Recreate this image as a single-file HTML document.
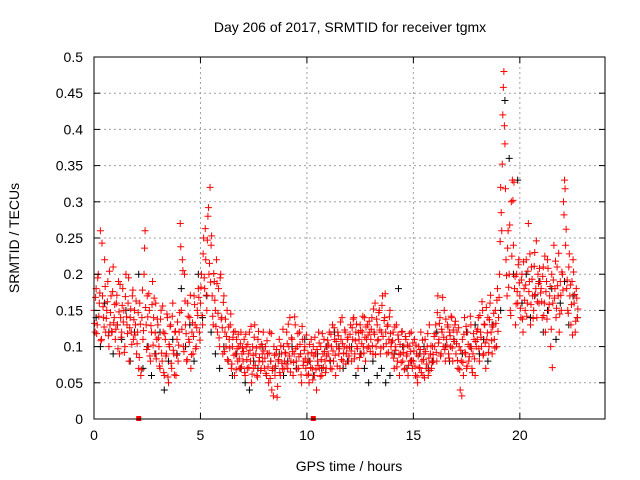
<!DOCTYPE html>
<html><head><meta charset="utf-8"><style>
body{margin:0;background:#fff}
svg{display:block;font-family:"Liberation Sans",sans-serif}
</style></head><body>
<svg id="chart" width="640" height="480">
<rect width="640" height="480" fill="#fff"/>
<g id="grid"></g>
<g id="marks"></g>
<rect x="94" y="57" width="511" height="362" fill="none" stroke="#000" stroke-width="1"/>
<g id="axes"></g>
<text x="350" y="32" font-size="14" text-anchor="middle">Day 206 of 2017, SRMTID for receiver tgmx</text>
<text x="349" y="471" font-size="14" text-anchor="middle">GPS time / hours</text>
<text x="19" y="238" font-size="14" text-anchor="middle" transform="rotate(-90 19 238)">SRMTID / TECUs</text>
</svg>
<script>
const xTicks=[0,5,10,15,20];
const yTicks=[0,0.05,0.1,0.15,0.2,0.25,0.3,0.35,0.4,0.45,0.5];
const redStep=0.05;
const redValues=[
.15,.12,.18,.13,.2,.16,.26,.11,.17,.14,.22,.12,.15,.19,.1,.13,.17,.12,.21,.14,
.11,.16,.13,.19,.09,.14,.12,.18,.15,.1,.2,.13,.16,.08,.14,.12,.17,.11,.15,.13,
.09,.12,.07,.16,.06,.14,.11,.2,.26,.13,.17,.1,.15,.08,.12,.19,.14,.09,.16,.11,
.13,.1,.07,.15,.08,.12,.06,.11,.09,.14,.05,.1,.13,.07,.16,.09,.12,.06,.11,.08,
.12,.27,.15,.22,.1,.2,.13,.08,.16,.11,.14,.07,.12,.09,.17,.13,.1,.15,.18,.12,
.16,.2,.13,.25,.18,.22,.15,.28,.2,.32,.24,.17,.13,.19,.15,.22,.12,.18,.1,.2,
.14,.09,.17,.12,.1,.15,.08,.11,.13,.07,.1,.12,.06,.09,.11,.08,.1,.07,.12,.09,
.08,.11,.06,.1,.07,.09,.12,.08,.05,.1,.07,.13,.09,.06,.11,.08,.1,.07,.09,.12,
.07,.1,.06,.09,.05,.12,.08,.04,.07,.1,.06,.09,.03,.08,.11,.06,.09,.07,.1,.08,
.09,.12,.07,.1,.14,.08,.11,.06,.09,.13,.08,.1,.07,.12,.09,.05,.11,.08,.1,.07,
.06,.09,.05,.08,.11,.07,.1,.06,.09,.04,.08,.12,.07,.1,.06,.09,.11,.08,.07,.1,
.09,.12,.07,.1,.13,.08,.11,.06,.1,.12,.09,.07,.11,.14,.08,.1,.12,.09,.11,.08,
.1,.13,.08,.11,.14,.09,.12,.1,.07,.11,.13,.09,.12,.1,.14,.08,.11,.13,.1,.12,
.11,.14,.09,.12,.16,.1,.13,.11,.15,.09,.12,.17,.1,.14,.12,.09,.13,.11,.15,.1,
.09,.12,.07,.1,.13,.08,.11,.06,.09,.12,.08,.1,.07,.11,.09,.06,.1,.08,.12,.07,
.08,.11,.06,.09,.05,.1,.07,.12,.08,.06,.09,.11,.07,.1,.06,.13,.09,.07,.1,.08,
.1,.13,.08,.17,.11,.14,.09,.12,.1,.15,.08,.11,.13,.09,.12,.1,.14,.08,.11,.13,
.09,.12,.07,.1,.04,.08,.11,.06,.14,.09,.07,.12,.08,.1,.13,.07,.09,.11,.06,.1,
.11,.14,.08,.12,.1,.15,.09,.13,.07,.11,.14,.1,.16,.12,.09,.13,.11,.15,.1,.18,
.14,.2,.32,.26,.42,.48,.38,.22,.17,.26,.2,.15,.3,.33,.24,.18,.13,.2,.16,.22,
.17,.14,.2,.12,.18,.15,.22,.16,.27,.19,.13,.21,.17,.15,.23,.18,.14,.2,.16,.19,
.18,.14,.21,.16,.12,.19,.22,.15,.17,.1,.2,.16,.24,.18,.14,.21,.17,.12,.19,.15,
.2,.3,.33,.24,.18,.15,.21,.17,.13,.19,.22,.16,.12,.18,.14];
const redValues2=[
.132,.168,.118,.195,.142,.174,.108,.243,.155,.127,.183,.139,.162,.115,.204,.147,.121,.176,.133,.158,
.124,.171,.097,.148,.186,.113,.157,.134,.092,.169,.141,.118,.195,.126,.152,.103,.178,.137,.116,.163,
.104,.147,.085,.131,.068,.178,.122,.236,.154,.096,.141,.173,.087,.129,.158,.102,.167,.119,.083,.138,
.112,.073,.138,.091,.156,.064,.118,.087,.145,.058,.103,.128,.077,.142,.095,.061,.121,.088,.134,.102,
.147,.238,.124,.205,.093,.163,.118,.082,.142,.106,.171,.089,.133,.114,.158,.097,.126,.143,.168,.109,
.182,.143,.228,.195,.263,.171,.247,.292,.215,.189,.253,.142,.201,.164,.128,.187,.146,.112,.195,.138,
.126,.161,.093,.138,.114,.082,.127,.098,.145,.076,.113,.088,.121,.068,.097,.117,.083,.104,.072,.098,
.093,.064,.117,.082,.103,.071,.095,.128,.062,.088,.113,.074,.098,.058,.121,.085,.067,.103,.079,.094,
.084,.063,.108,.072,.091,.056,.118,.067,.032,.088,.073,.096,.045,.082,.064,.101,.077,.124,.069,.092,
.076,.104,.131,.087,.065,.112,.093,.078,.141,.097,.069,.118,.086,.103,.061,.128,.074,.095,.083,.116,
.078,.062,.103,.071,.092,.054,.087,.113,.068,.096,.074,.105,.059,.082,.118,.071,.093,.064,.087,.109,
.102,.081,.117,.069,.094,.126,.088,.107,.073,.115,.097,.134,.082,.104,.091,.123,.076,.098,.113,.087,
.117,.094,.126,.138,.083,.108,.131,.097,.119,.085,.122,.104,.142,.091,.113,.127,.098,.116,.135,.093,
.124,.101,.152,.117,.089,.138,.108,.147,.123,.098,.157,.114,.136,.173,.104,.128,.092,.141,.118,.106,
.108,.084,.127,.095,.072,.116,.089,.103,.078,.121,.092,.068,.114,.087,.102,.074,.118,.093,.081,.105,
.094,.073,.102,.058,.087,.071,.096,.064,.109,.082,.057,.093,.076,.118,.084,.067,.101,.078,.089,.114,
.118,.092,.147,.105,.132,.087,.124,.168,.113,.096,.138,.102,.127,.084,.115,.142,.098,.123,.107,.135,
.104,.081,.126,.068,.095,.032,.078,.117,.092,.128,.073,.103,.086,.142,.097,.064,.118,.083,.107,.121,
.124,.097,.143,.113,.162,.088,.131,.105,.154,.119,.092,.137,.171,.108,.127,.146,.098,.132,.164,.121,
.168,.245,.285,.352,.458,.405,.318,.198,.236,.182,.268,.143,.225,.302,.327,.197,.159,.176,.213,.188,
.153,.192,.138,.217,.164,.185,.142,.204,.176,.228,.158,.193,.139,.211,.172,.246,.162,.187,.208,.174,
.162,.197,.143,.225,.176,.138,.208,.158,.183,.124,.071,.192,.167,.218,.153,.184,.229,.145,.171,.203,
.178,.282,.318,.262,.192,.146,.228,.185,.158,.116,.203,.172,.135,.167,.152];
const blackStep=0.2;
const blackValues=[
.14,.1,.16,.12,.09,.13,.11,.15,.08,.12,.2,.07,.1,.06,.09,.12,.04,.08,.11,.09,
.18,.1,.13,.08,.2,.14,.17,.12,.09,.07,.1,.08,.06,.09,.07,.05,.04,.08,.07,.1,
.06,.08,.07,.09,.06,.08,.1,.07,.09,.11,.08,.06,.09,.07,.1,.08,.12,.1,.07,.08,
.1,.06,.09,.07,.05,.08,.06,.07,.05,.06,.09,.18,.1,.07,.08,.06,.09,.1,.07,.08,
.12,.09,.1,.08,.11,.07,.09,.12,.1,.13,.09,.11,.08,.13,.1,.15,.44,.36,.2,.33,
.16,.2,.14,.17,.19,.12,.15,.18,.11,.16,.19,.13,.17,.14];
const markers=[2.1,10.3];
const X0=94,X1=605,Y0=419,Y1=57,XMAX=24,YMAX=0.5;
function sx(v){return X0+(X1-X0)*v/XMAX;}
function sy(v){return Y0-(Y0-Y1)*v/YMAX;}
const NS="http://www.w3.org/2000/svg";
const grid=document.getElementById('grid'),axes=document.getElementById('axes'),marks=document.getElementById('marks');
function ln(p,x1,y1,x2,y2,st,dash){const l=document.createElementNS(NS,'line');l.setAttribute('x1',x1);l.setAttribute('y1',y1);l.setAttribute('x2',x2);l.setAttribute('y2',y2);l.setAttribute('stroke',st);if(dash)l.setAttribute('stroke-dasharray',dash);p.appendChild(l);return l;}
function tx(p,x,y,s,anc){const t=document.createElementNS(NS,'text');t.setAttribute('x',x);t.setAttribute('y',y);t.setAttribute('font-size','14');t.setAttribute('text-anchor',anc);t.textContent=s;p.appendChild(t);return t;}
xTicks.forEach(v=>{const x=sx(v);
if(v>0){const g=ln(grid,x,Y0,x,Y1,'#a0a0a0','2,3');

}
const a=ln(axes,x,Y0,x,Y0-6,'#000');

const b=ln(axes,x,Y1,x,Y1+6,'#000');

const t=tx(axes,x,440,String(v),'middle');

});
yTicks.forEach(v=>{const y=sy(v);
if(v>0&&v<YMAX){const g=ln(grid,X0,y,X1,y,'#a0a0a0','2,3');

}
const a=ln(axes,X0,y,X0+6,y,'#000');

const b=ln(axes,X1,y,X1-6,y,'#000');

const t=tx(axes,83,y+5,String(v),'end');

});
function plus(vals,step,off,col,name){let d='';vals.forEach((v,i)=>{const x=sx(off+i*step),y=sy(v);d+=`M${x-3.5} ${y}h7M${x} ${y-3.5}v7`;});
const p=document.createElementNS(NS,'path');p.setAttribute('d',d);p.setAttribute('stroke',col);p.setAttribute('stroke-width','1');p.setAttribute('fill','none');


marks.appendChild(p);}
plus(blackValues,blackStep,0.1,'#000','series-black');
plus(redValues,redStep,0,'#f00','series-red');
plus(redValues2,redStep,0.025,'#f00','series-red-2');
markers.forEach(v=>{const r=document.createElementNS(NS,'rect');r.setAttribute('x',sx(v)-2.5);r.setAttribute('y',Y0-3);r.setAttribute('width',5);r.setAttribute('height',5);r.setAttribute('fill','#f00');


marks.appendChild(r);});
</script>
</body></html>
